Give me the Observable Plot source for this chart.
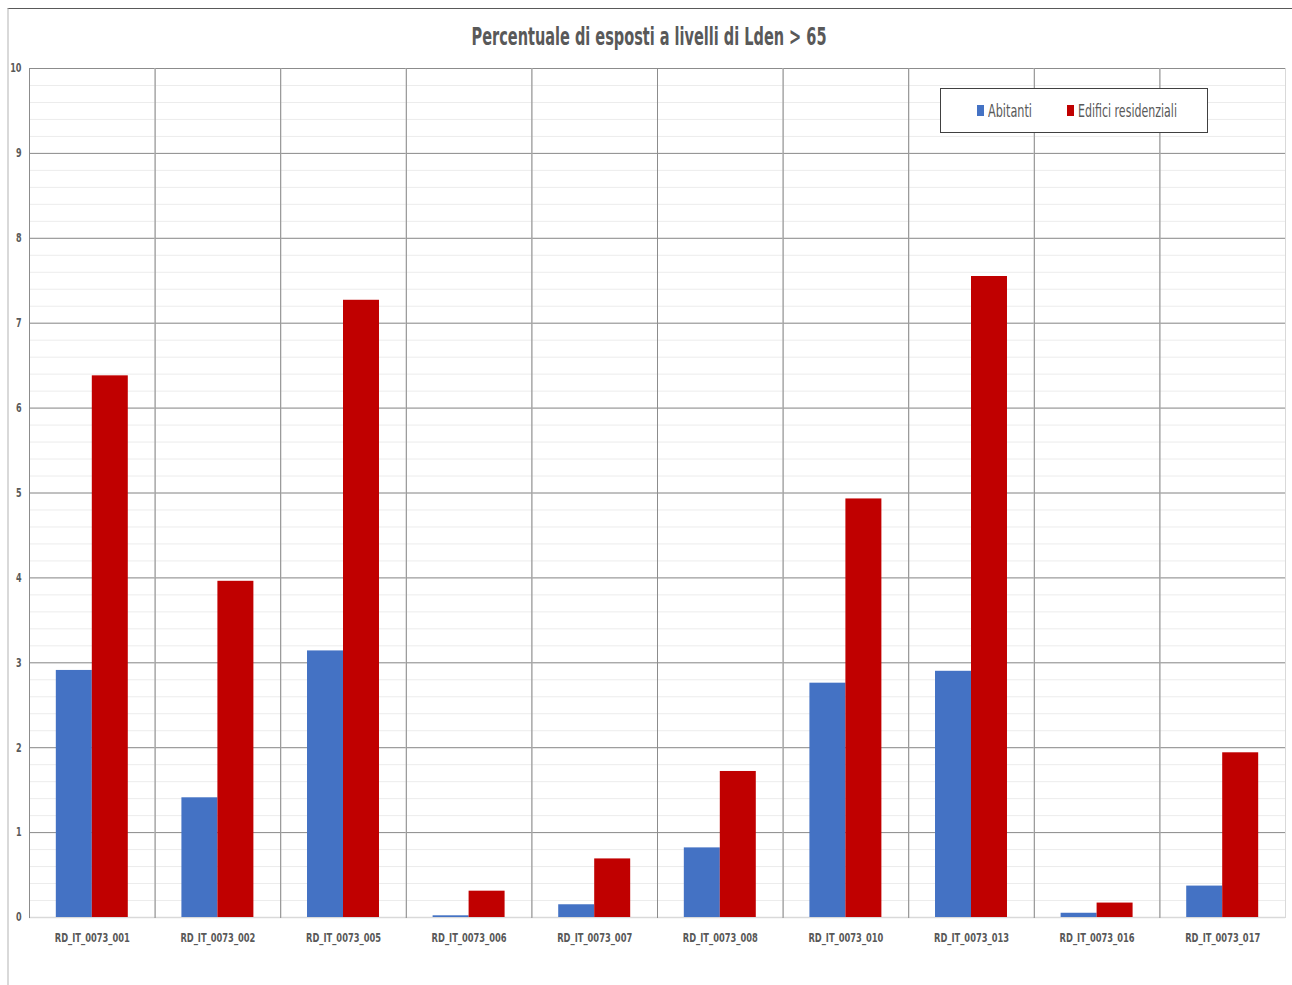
<!DOCTYPE html>
<html><head><meta charset="utf-8">
<script src="https://cdn.jsdelivr.net/npm/d3@7"></script>
<script src="https://cdn.jsdelivr.net/npm/@observablehq/plot@0.6"></script>
<style>
body{margin:0;background:#fff;font-family:'Liberation Sans Narrow','DejaVu Sans Condensed',sans-serif;}
#border{position:absolute;left:7px;top:8px;width:1285px;height:977px;border-top:1px solid #595959;border-left:2px solid #d9d9d9;box-sizing:border-box;}
#title{position:absolute;top:23px;left:0;width:1299px;text-align:center;color:#595959;font-weight:bold;font-size:25px;line-height:28px;white-space:nowrap;}
#title span{display:inline-block;transform-origin:center;}
#chart{position:absolute;left:0;top:50px;}
#legend{position:absolute;left:940px;top:88px;width:268px;height:45px;box-sizing:border-box;border:1px solid #404040;background:#fff;color:#595959;font-size:18px;}
#legend .sw{position:absolute;width:7px;height:11px;top:16px;}
#legend .tx{position:absolute;top:11px;line-height:22px;white-space:nowrap;transform-origin:left center;}
</style></head>
<body>
<div id="border"></div>
<div id="title"><span>Percentuale di esposti a livelli di Lden &gt; 65</span></div>
<div id="chart"></div>
<div id="legend"></div>
<script>
const categories = ["RD_IT_0073_001","RD_IT_0073_002","RD_IT_0073_005","RD_IT_0073_006","RD_IT_0073_007","RD_IT_0073_008","RD_IT_0073_010","RD_IT_0073_013","RD_IT_0073_016","RD_IT_0073_017"];
const series = ["Abitanti", "Edifici residenziali"];
const abitanti = [2.91, 1.41, 3.14, 0.02, 0.15, 0.82, 2.76, 2.90, 0.05, 0.37];
const edifici = [6.38, 3.96, 7.27, 0.31, 0.69, 1.72, 4.93, 7.55, 0.17, 1.94];
const colors = ["#4472c4", "#c00000"];
const yTicks = [0,1,2,3,4,5,6,7,8,9,10];

const data = [];
categories.forEach((c, i) => {
  data.push({category: c, series: series[0], value: abitanti[i]});
  data.push({category: c, series: series[1], value: edifici[i]});
});

const chart = Plot.plot({
  width: 1292,
  height: 935,
  marginLeft: 29,
  marginRight: 7,
  marginTop: 18,
  marginBottom: 68,
  style: {fontFamily: "'Liberation Sans Narrow','DejaVu Sans Condensed',sans-serif", color: "#595959", background: "transparent"},
  fx: {domain: categories, padding: 0, round: false, label: null},
  x: {domain: series, paddingInner: 0, paddingOuter: 0.745, round: false, axis: null},
  y: {domain: [0, 10], label: null},
  color: {domain: series, range: colors},
  marks: [
    Plot.gridY({ticks: 50, stroke: "#ececec", strokeOpacity: 1}),
    Plot.gridY(yTicks, {stroke: "#8c8c8c", strokeOpacity: 1}),
    Plot.ruleY([0], {stroke: "#d9d9d9", strokeWidth: 1.5}),
    Plot.frame({anchor: "right", stroke: "#d9d9d9"}),
    Plot.frame({anchor: "left", stroke: "#8c8c8c"}),
    Plot.barY(data, {fx: "category", x: "series", y: "value", fill: "series"}),
    Plot.axisY(yTicks, {tickSize: 0, tickPadding: 8, fontSize: 12, fontWeight: "bold", tickFormat: "d", label: null}),
    Plot.axisFx({anchor: "bottom", tickSize: 0, tickPadding: 16, fontSize: 12.5, fontWeight: "bold", label: null})
  ]
});
document.getElementById("chart").appendChild(chart);

// condense axis texts to mimic the narrow font of the reference
chart.querySelectorAll('[aria-label="fx-axis tick label"] text').forEach(t => {
  t.setAttribute("textLength", 75);
  t.setAttribute("lengthAdjust", "spacingAndGlyphs");
});
chart.querySelectorAll('[aria-label="y-axis tick label"] text').forEach(t => {
  const w = t.getComputedTextLength();
  t.setAttribute("textLength", (w * 0.75).toFixed(1));
  t.setAttribute("lengthAdjust", "spacingAndGlyphs");
});

const legend = document.getElementById("legend");
const swLeft = [36, 126];
const txWidth = [44, 99];
series.forEach((s, i) => {
  const sw = document.createElement("span");
  sw.className = "sw";
  sw.style.left = swLeft[i] + "px";
  sw.style.background = colors[i];
  const t = document.createElement("span");
  t.className = "tx";
  t.style.left = (swLeft[i] + 11) + "px";
  t.textContent = s;
  legend.appendChild(sw); legend.appendChild(t);
  const w = t.getBoundingClientRect().width;
  t.style.transform = `scaleX(${txWidth[i] / w})`;
});

const ts = document.querySelector("#title span");
const w = ts.getBoundingClientRect().width;
ts.style.transform = `scaleX(${355 / w})`;
</script>
</body></html>
